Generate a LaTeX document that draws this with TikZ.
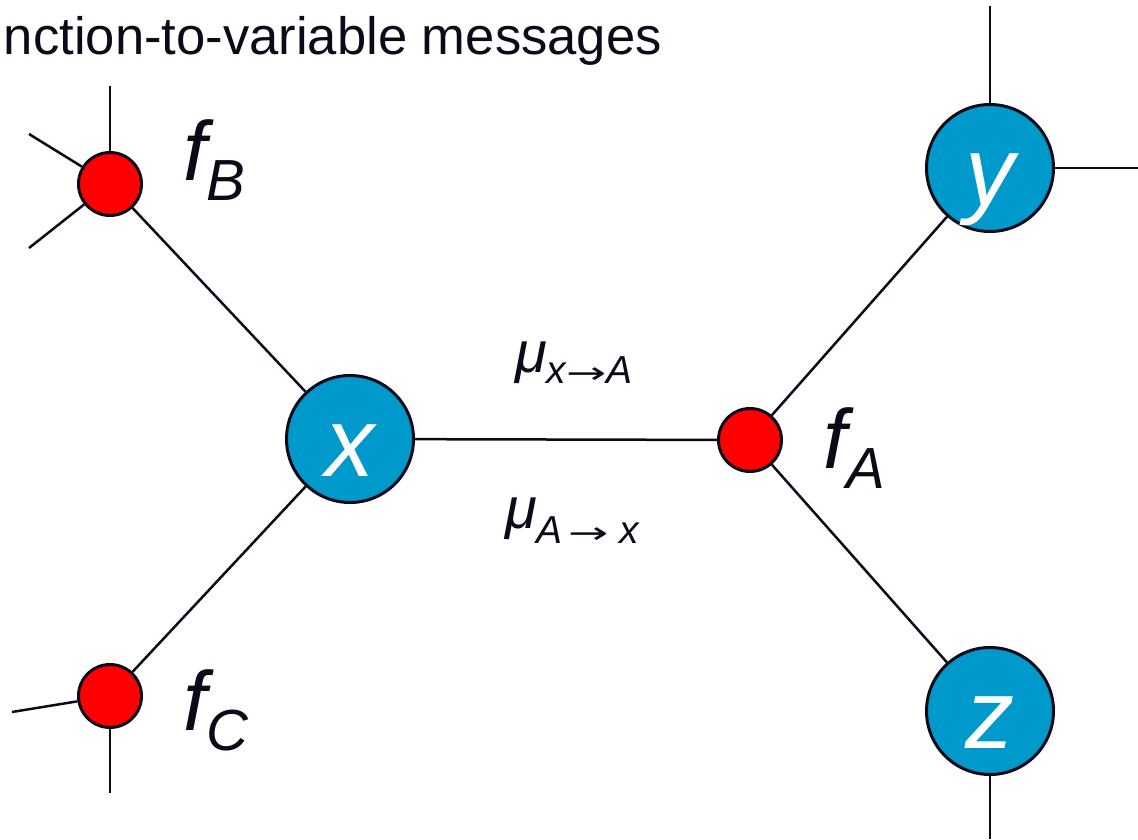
\documentclass[tikz,border=0pt]{standalone}
\usepackage{fontspec}
\usepackage{graphicx}
\setmainfont{Liberation Sans}
\newfontfamily\arrowfont{DejaVu Sans}
\definecolor{varblue}{HTML}{0099CC}
\definecolor{linec}{HTML}{0A0A18}
\newcommand{\msgarrow}{\scalebox{1.6}[1]{\upshape\arrowfont\fontsize{30}{30}\selectfont →}}
\begin{document}
\begin{tikzpicture}[x=1pt,y=-1pt,
  var/.style={circle,draw=linec,line width=3pt,fill=varblue,minimum size=127pt,inner sep=0pt,
    text=white,text height=74pt,text depth=0pt,font=\fontsize{98}{98}\selectfont\itshape},
  fac/.style={circle,draw=linec,line width=3pt,fill=red,minimum size=63pt,inner sep=0pt},
  edge/.style={draw=linec,line width=2.5pt},
  flab/.style={anchor=base west,inner sep=0pt,text=linec,font=\fontsize{84}{84}\selectfont\itshape},
  mlab/.style={anchor=base west,inner sep=0pt,text=linec,font=\fontsize{58}{58}\selectfont\itshape}]
\useasboundingbox (0,0) rectangle (1138,839);
% nodes
\node[var] (x) at (350,439) {x};
\node[var] (y) at (990,168) {y};
\node[var] (z) at (990,711) {z};
\node[fac] (fA) at (750,440) {};
\node[fac] (fB) at (110,184) {};
\node[fac] (fC) at (110,696) {};
% stub ends
\coordinate (b1) at (110,86);
\coordinate (b2) at (29,134);
\coordinate (b3) at (29,248);
\coordinate (c1) at (12,712);
\coordinate (c2) at (110,793);
\coordinate (y1) at (990,6);
\coordinate (y2) at (1138,168);
\coordinate (z1) at (990,839);
% edges
\draw[edge] (x) -- (fA);
\draw[edge] (fB) -- (x);
\draw[edge] (fC) -- (x);
\draw[edge] (fA) -- (y);
\draw[edge] (fA) -- (z);
\draw[edge] (fB) -- (b1);
\draw[edge] (fB) -- (b2);
\draw[edge] (fB) -- (b3);
\draw[edge] (fC) -- (c1);
\draw[edge] (fC) -- (c2);
\draw[edge] (y) -- (y1);
\draw[edge] (y) -- (y2);
\draw[edge] (z) -- (z1);
% labels
\node[flab] (lB) at (183,180) {f\raisebox{-20pt}{\fontsize{58}{58}\selectfont B}};
\node[flab] (lC) at (183,730) {f\raisebox{-20pt}{\fontsize{58}{58}\selectfont C}};
\node[flab] (lA) at (823,468) {f\raisebox{-20pt}{\fontsize{58}{58}\selectfont A}};
\node[mlab] (m1) at (515,372) {μ\raisebox{-11pt}{\fontsize{39}{39}\selectfont x\msgarrow A}};
\node[mlab] (m2) at (505,528) {μ\raisebox{-15pt}{\fontsize{39}{39}\selectfont A\hspace{6pt}\msgarrow\hspace{10pt}x}};
\node[anchor=base east,inner sep=0pt,text=linec,font=\fontsize{52.6}{52.6}\selectfont] (t) at (662,54) {nction-to-variable messages};
\end{tikzpicture}
\end{document}
